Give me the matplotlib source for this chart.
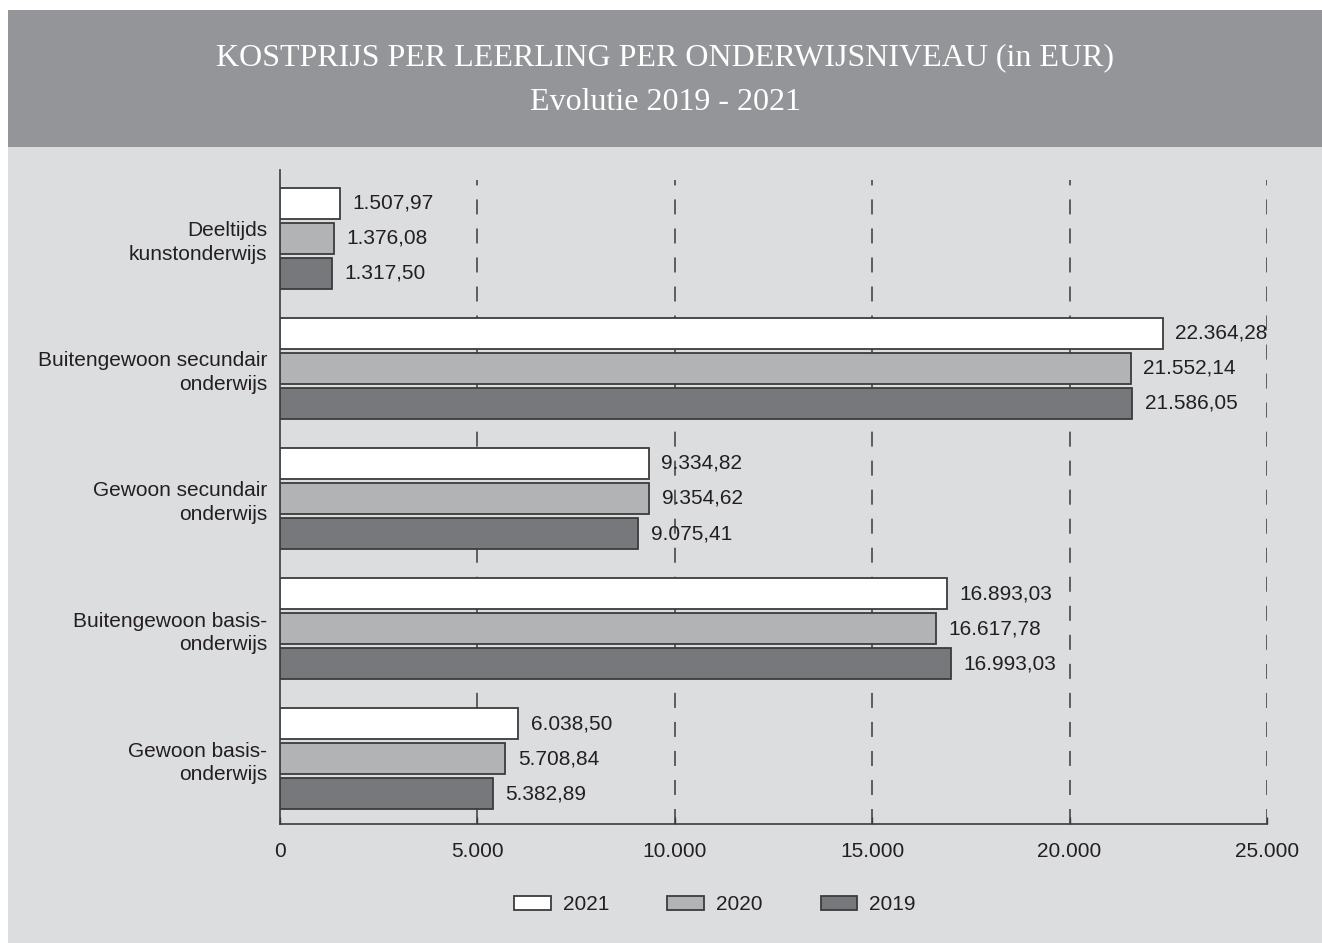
import matplotlib.pyplot as plt
from matplotlib.patches import Rectangle

plt.rcParams['font.family'] = ['Liberation Sans', 'DejaVu Sans']
plt.rcParams['lines.scale_dashes'] = False

# data (bottom to top)
categories = ['Gewoon basis-\nonderwijs', 'Buitengewoon basis-\nonderwijs',
              'Gewoon secundair\nonderwijs', 'Buitengewoon secundair\nonderwijs',
              'Deeltijds\nkunstonderwijs']
years = ['2021', '2020', '2019']
values_2021 = [6038.50, 16893.03, 9334.82, 22364.28, 1507.97]
values_2020 = [5708.84, 16617.78, 9354.62, 21552.14, 1376.08]
values_2019 = [5382.89, 16993.03, 9075.41, 21586.05, 1317.50]
series = [values_2021, values_2020, values_2019]
x_ticks = [0, 5000, 10000, 15000, 20000, 25000]

colors = ['#ffffff', '#b2b3b5', '#77787b']
text_col = '#231f20'

def fmt(v):
    s = f"{v:,.2f}"
    return s.replace(',', 'X').replace('.', ',').replace('X', '.')

fig = plt.figure(figsize=(13.22, 9.43), dpi=100)
fig.patch.set_facecolor('white')

# background panels
W, H = 1322, 943
fig.add_artist(Rectangle((8 / W, 0), 1 - 8 / W, 1 - 10 / H, transform=fig.transFigure,
                         facecolor='#dcdddf', edgecolor='none', zorder=0))
fig.add_artist(Rectangle((8 / W, 1 - 147 / H), 1 - 8 / W, (147 - 10) / H, transform=fig.transFigure,
                         facecolor='#939598', edgecolor='none', zorder=0))

fig.text(665 / W, 1 - 58 / H, 'KOSTPRIJS PER LEERLING PER ONDERWIJSNIVEAU (in EUR)',
         family=['Liberation Serif', 'DejaVu Serif'], fontsize=23, color='white',
         ha='center', va='center')
fig.text(665 / W, 1 - 103 / H, 'Evolutie 2019 - 2021',
         family=['Liberation Serif', 'DejaVu Serif'], fontsize=23, color='white',
         ha='center', va='center')

ax = fig.add_axes([280 / W, 1 - 824 / H, (1267 - 280) / W, (824 - 170) / H])
ax.set_facecolor('none')

bar_h = 0.238
step = 0.269
for i, (vals, col, yr) in enumerate(zip(series, colors, years)):
    ys = [k + step * (1 - i) for k in range(len(categories))]
    bars = ax.barh(ys, vals, height=bar_h, color=col, edgecolor='#3c3c3c',
                   linewidth=1.3, label=yr, zorder=3)
    for b, v in zip(bars, vals):
        ax.annotate(fmt(v), (b.get_width(), b.get_y() + b.get_height() / 2),
                    xytext=(9, 0), textcoords='offset points', ha='left', va='center',
                    fontsize=15, color=text_col, zorder=5)

for xv in x_ticks[1:]:
    ax.axvline(xv, ymax=0.985, color='#3a3a3a', linewidth=1.1,
               linestyle=(0, (10.8, 10.1)), zorder=1)

ax.set_xlim(0, 25000)
ax.set_ylim(-0.5, 4.523)
ax.set_xticks(x_ticks)
ax.set_xticklabels([f"{t:,}".replace(',', '.') for t in x_ticks], fontsize=15, color=text_col)
ax.set_yticks(range(len(categories)))
ax.set_yticklabels(categories, fontsize=15, color=text_col, linespacing=1.3)
ax.tick_params(axis='x', direction='in', length=5, width=1, color='#3c3c3c', pad=13)
ax.tick_params(axis='y', length=0, pad=9)

for s in ['top', 'right']:
    ax.spines[s].set_visible(False)
for s in ['left', 'bottom']:
    ax.spines[s].set_color('#3c3c3c')
    ax.spines[s].set_linewidth(1.2)

fig.legend(loc='center', bbox_to_anchor=(715 / W, 1 - 905 / H), ncol=3, frameon=False,
           fontsize=15, handlelength=1.76, handleheight=0.65, handletextpad=0.57,
           columnspacing=2.8, labelcolor=text_col)

fig.savefig('out.png', dpi=100)
